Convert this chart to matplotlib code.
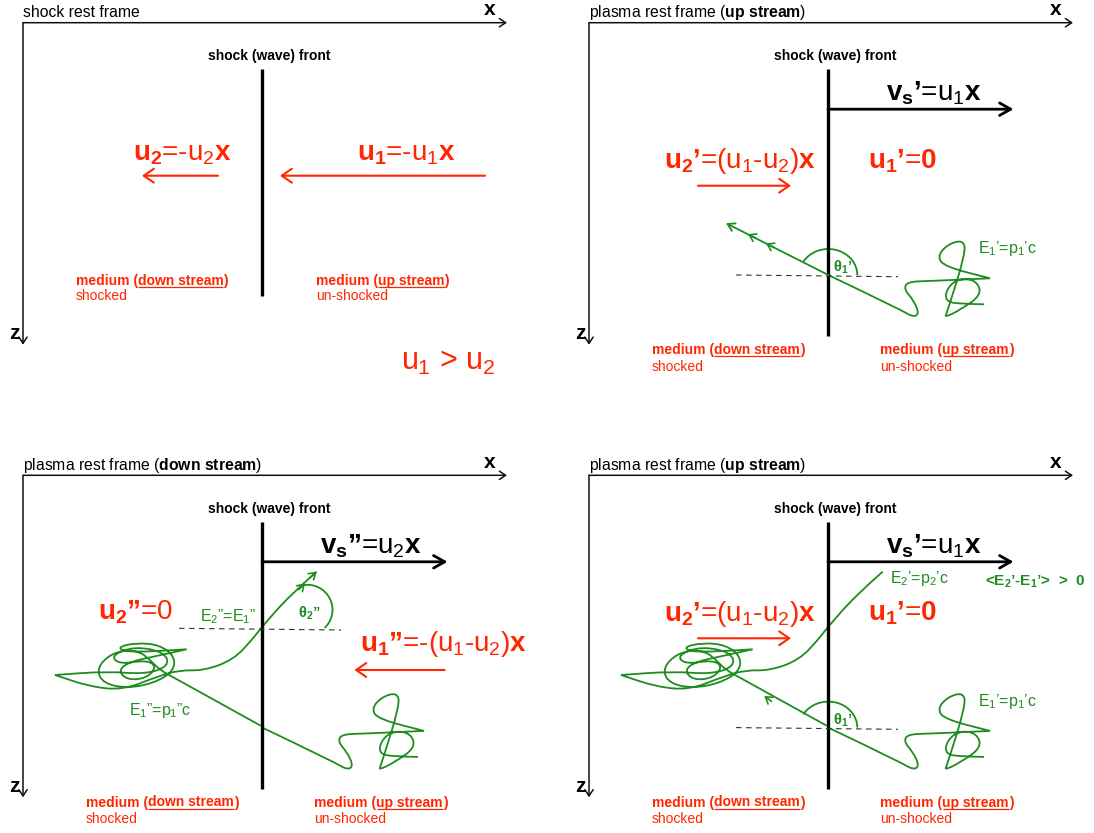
import numpy as np
import matplotlib.pyplot as plt
from matplotlib.path import Path
from matplotlib.patches import PathPatch, Arc

plt.rcParams['font.family'] = 'Liberation Sans'
plt.rcParams['mathtext.fontset'] = 'custom'
plt.rcParams['mathtext.rm'] = 'Liberation Sans'
plt.rcParams['mathtext.it'] = 'Liberation Sans'
plt.rcParams['mathtext.bf'] = 'Liberation Sans:bold'

RED = '#ff2600'
GREEN = '#1e8c1e'

# corner of each frame (x axis / z axis meet here), pixel units
origins = [(23, 22.7), (589, 22.7), (23, 475.3), (589, 475.3)]
titles = ['shock rest frame',
          r'plasma rest frame ($\mathbf{up\ stream}$)',
          r'plasma rest frame ($\mathbf{down\ stream}$)',
          r'plasma rest frame ($\mathbf{up\ stream}$)']

# particle wandering in the up-stream medium (control polygon, frame coords)
up_scribble = [(239.3, 252.3), (311, 286.6), (324.3, 294.6), (330.3, 290.6), (324.3, 277.3),
               (315, 266.6), (318.3, 259), (341, 258.3), (401, 255.6), (401, 255.6),
               (356, 244), (348.3, 234), (358, 222), (374.3, 217), (376.7, 230.3),
               (357.7, 290.6), (356, 294.6), (371, 287.3), (392.7, 272.3), (387.7, 258),
               (371, 255.3), (358.3, 264.6), (355.7, 279), (374.3, 281.3), (395, 281.6)]

# particle crossing into the down-stream medium, tangling, then crossing back
down_scribble = [(237.7, 250.4), (150.3, 202), (137, 194.7), (127, 184.7), (117, 176.4),
                 (100.3, 174.7), (83.7, 181.4), (73.7, 194.7), (80.3, 208), (103.7, 213),
                 (130.3, 208), (150.3, 196.4), (152, 181.4), (137, 169.7), (113.7, 167.4),
                 (93.7, 172), (105.3, 177.4), (163.7, 174), (163.7, 174), (130.3, 181.4),
                 (107, 186.4), (95.3, 194.7), (103.7, 204.7), (123.7, 203), (133.7, 191.4),
                 (123.7, 184.7), (96, 189), (88, 180), (112, 171), (142, 177), (146, 191),
                 (122, 199), (84, 196), (32, 199.7), (32, 199.7), (67, 211.4),
                 (100.3, 214.7), (133.7, 201.4), (157, 194.7), (180.3, 195.4), (210.3, 184.7),
                 (230.3, 163), (237.7, 153), (267, 119.7), (293.7, 96.4)]

cross_low = (239.3, 252.3)
escape_tip = (137, 200.5)

fig = plt.figure(figsize=(10.94, 8.33), dpi=100)
ax = fig.add_axes([0, 0, 1, 1])
ax.set_xlim(0, 1094)
ax.set_ylim(833, 0)
ax.axis('off')
renderer = fig.canvas.get_renderer()


def arrow(p0, p1, color, lw, hl, hw):
    ax.annotate('', xy=p1, xytext=p0,
                arrowprops=dict(arrowstyle=f'->,head_length={hl},head_width={hw}',
                                lw=lw, color=color, shrinkA=0, shrinkB=0,
                                mutation_scale=10))


def smooth(pts, ox, oy):
    pts = np.asarray(pts, float) + [ox, oy]
    verts, codes = [pts[0]], [Path.MOVETO]
    n = len(pts)
    for i in range(1, n - 1):
        end = pts[i + 1] if i == n - 2 else (pts[i] + pts[i + 1]) / 2
        verts += [pts[i], end]
        codes += [Path.CURVE3, Path.CURVE3]
    return Path(verts, codes)


def rich(x, y, parts, size, color):
    # parts: (text, bold, underline)
    for s, bold, ul in parts:
        t = ax.text(x, y, s, fontsize=size, fontweight='bold' if bold else 'normal',
                    color=color, ha='left', va='baseline')
        w = t.get_window_extent(renderer).width
        if ul:
            ax.plot([x, x + w], [y + 2.3, y + 2.3], color=color, lw=0.9,
                    solid_capstyle='butt')
        x += w


def chevron(ox, oy, at, towards, lw=1.2):
    # small arrow head sitting on the path, pointing along it
    a = np.array(at) + [ox, oy]
    d = np.array(towards, float) - np.array(at)
    d = d / np.hypot(*d)
    arrow(a - 9 * d, a, GREEN, lw, 0.45, 0.3)


for k, (ox, oy) in enumerate(origins):
    P = lambda x, y: (ox + x, oy + y)

    # frame axes
    arrow(P(0, 0), P(484, 0), '#111111', 1.1, 0.45, 0.3)
    arrow(P(0, 0), P(0, 322), '#111111', 1.1, 0.45, 0.3)
    ax.text(*P(467, -7.7), 'x', fontsize=15, fontweight='bold', ha='center', va='baseline')
    ax.text(*P(-9, 316.6), 'z', fontsize=15, fontweight='bold', ha='center', va='baseline')
    ax.text(*P(0, -5.4), titles[k], fontsize=11.3, ha='left', va='baseline')

    # shock front
    z_end = 273.3 if k == 0 else 313.5
    ax.plot([ox + 239, ox + 239], [oy + 46.3, oy + z_end], color='k', lw=2.4,
            solid_capstyle='butt')
    ax.text(*P(246, 37.3), 'shock (wave) front', fontsize=10, fontweight='bold',
            ha='center', va='baseline')

    # media labels
    if k == 0:
        xd, xu, y1, y2 = 52.6, 293, 262.3, 277.3
    else:
        xd, xu, y1, y2 = 63, 291.5, 331.2, 347.8
    rich(*P(xd, y1), [('medium (', True, False), ('down stream', True, True),
                      (')', True, False)], 10, RED)
    rich(*P(xd, y2), [('shocked', False, False)], 10, RED)
    rich(*P(xu, y1), [('medium (', True, False), ('up stream', True, True),
                      (')', True, False)], 10, RED)
    rich(*P(xu, y2), [('un-shocked', False, False)], 10, RED)

    if k == 0:
        ax.text(*P(110, 137.3), r'$\mathbf{u_2}$=-$u_2\mathbf{x}$', fontsize=20,
                color=RED, va='baseline')
        ax.text(*P(334, 137.3), r'$\mathbf{u_1}$=-$u_1\mathbf{x}$', fontsize=20,
                color=RED, va='baseline')
        arrow(P(195, 153), P(119, 153), RED, 1.5, 0.72, 0.5)
        arrow(P(462, 153), P(257, 153), RED, 1.5, 0.72, 0.5)
        ax.text(*P(378, 347.3), r'$u_1$ > $u_2$', fontsize=22, color=RED, va='baseline')
        continue

    # shock speed in the plasma frame
    vs = (r'$\mathbf{v_s}\mathbf{”}$=$u_2\mathbf{x}$' if k == 2
          else r'$\mathbf{v_s}\mathbf{’}$=$u_1\mathbf{x}$')
    ax.text(*P(297, 78), vs, fontsize=20, color='k', va='baseline')
    arrow(P(239, 86.5), P(424.5, 86.5), 'k', 2.0, 0.8, 0.45)

    # particle path
    ax.add_patch(PathPatch(smooth(up_scribble, ox, oy), fill=False,
                           edgecolor=GREEN, lw=1.3))

    if k == 1:
        arrow(P(*cross_low), P(*escape_tip), GREEN, 1.3, 0.5, 0.3)
        chevron(ox, oy, (159, 211.5), escape_tip)
        chevron(ox, oy, (177, 220.7), escape_tip)
    else:
        ax.add_patch(PathPatch(smooth(down_scribble, ox, oy), fill=False,
                               edgecolor=GREEN, lw=1.3))

    if k in (1, 3):
        ax.text(*P(75, 145.6), r'$\mathbf{u_2}\mathbf{’}$=($u_1$-$u_2$)$\mathbf{x}$',
                fontsize=20, color=RED, va='baseline')
        ax.text(*P(279, 145.6), r'$\mathbf{u_1}\mathbf{’}$=$\mathbf{0}$', fontsize=20,
                color=RED, va='baseline')
        arrow(P(109, 163), P(202, 163), RED, 1.5, 0.72, 0.5)
        ax.plot([ox + 147, ox + 309], [oy + 252.3, oy + 254], color='#333333', lw=0.8,
                ls=(0, (5, 4)))
        ax.add_patch(Arc(P(*cross_low), 58, 52, theta1=-152, theta2=0,
                         color=GREEN, lw=1.3))
        ax.text(*P(243.7, 249), r'$\mathbf{θ_1}$’', fontsize=10.5, fontweight='bold',
                color=GREEN, va='baseline')
        ax.text(*P(389, 230.5), r'$E_1$’=$p_1$’c', fontsize=11.5, color=GREEN,
                va='baseline')

    if k == 3:
        chevron(ox, oy, (175.3, 220.7), (150.3, 202))
        ax.text(*P(300.7, 107.3), r'$E_2$’=$p_2$’c', fontsize=11.5, color=GREEN,
                va='baseline')
        ax.text(*P(396, 110), r'<$\mathbf{E_2}$’-$\mathbf{E_1}$’>  >  0', fontsize=11,
                fontweight='bold', color=GREEN, va='baseline')

    if k == 2:
        ax.text(*P(75, 144.5), r'$\mathbf{u_2}\mathbf{”}$=0', fontsize=20, color=RED,
                va='baseline')
        ax.text(*P(336.6, 175.7), r'$\mathbf{u_1}\mathbf{”}$=-($u_1$-$u_2$)$\mathbf{x}$',
                fontsize=20, color=RED, va='baseline')
        arrow(P(421.6, 194.7), P(331.4, 194.7), RED, 1.5, 0.72, 0.5)
        ax.plot([ox + 156, ox + 318], [oy + 153, oy + 154.7], color='#333333', lw=0.8,
                ls=(0, (5, 4)))
        ax.add_patch(Arc(P(284.5, 134.5), 50, 50, theta1=-100, theta2=46.5,
                         color=GREEN, lw=1.3))
        ax.text(*P(275, 142), r'$\mathbf{θ_2}$”', fontsize=10.5, fontweight='bold',
                color=GREEN, va='baseline')
        ax.text(*P(177, 146.4), r'$E_2$”=$E_1$”', fontsize=11.5, color=GREEN,
                va='baseline')
        ax.text(*P(106, 239.7), r'$E_1$”=$p_1$”c', fontsize=11.5, color=GREEN,
                va='baseline')
        chevron(ox, oy, (282, 108), (293.7, 96.4))
        chevron(ox, oy, (293.7, 96.4), (300, 90.9))

fig.savefig('out.png', dpi=100)
